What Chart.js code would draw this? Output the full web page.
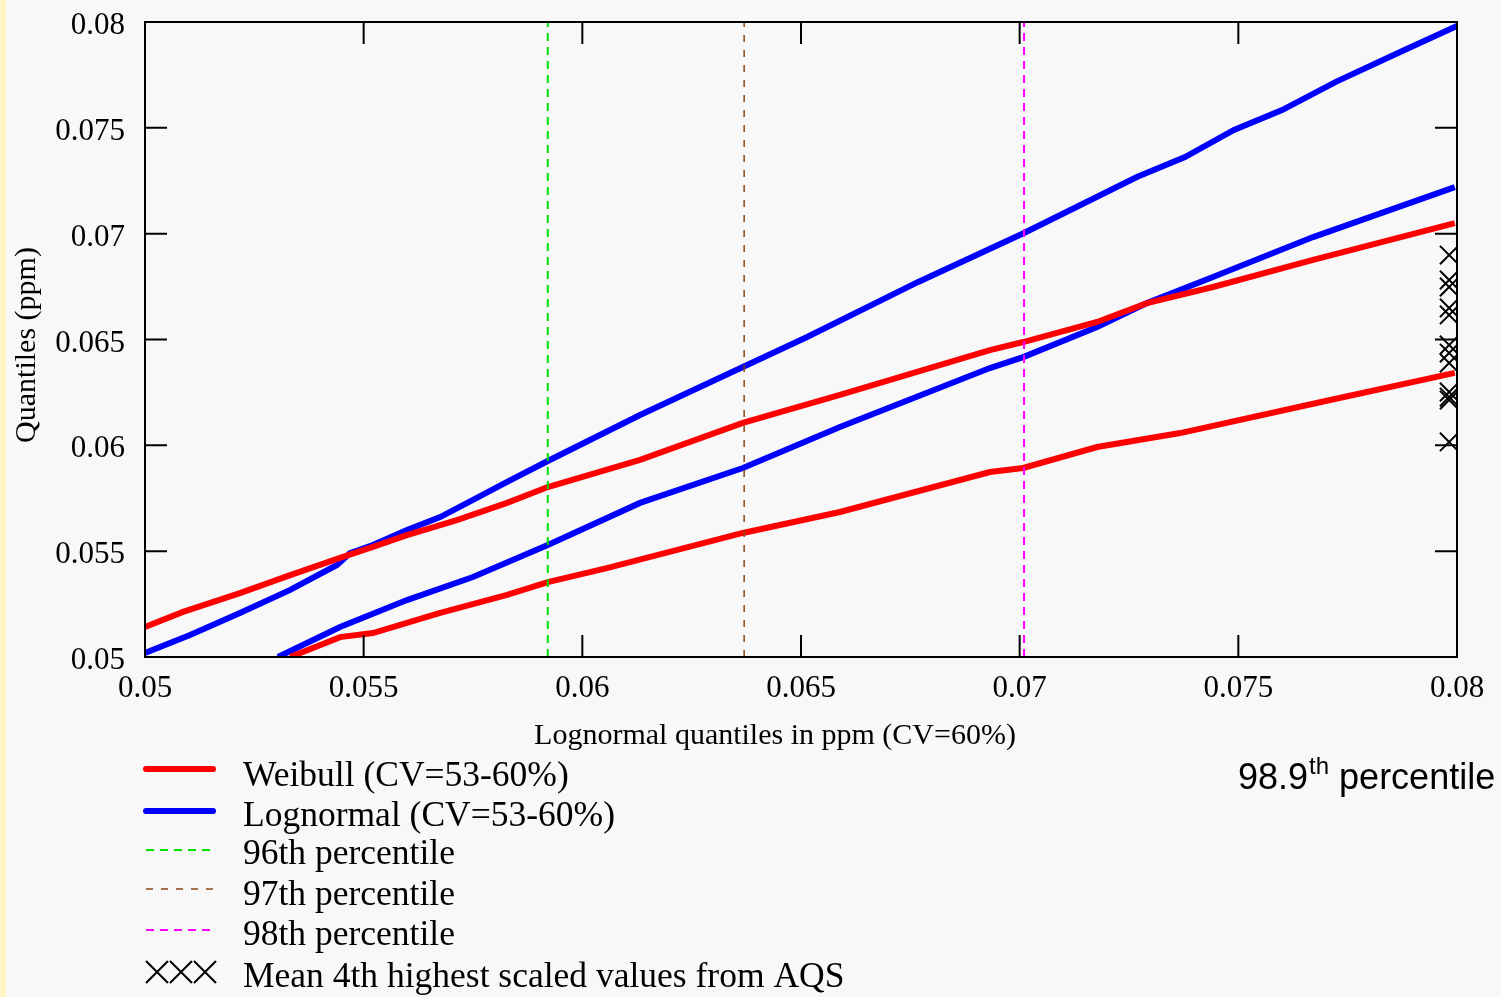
<!DOCTYPE html>
<html>
<head>
<meta charset="utf-8">
<script src="https://cdn.jsdelivr.net/npm/chart.js@4.4.1/dist/chart.umd.min.js"></script>
<style>
  html, body { margin: 0; padding: 0; background: #f8f8f8; }
  #wrap { position: relative; width: 1501px; height: 997px; background: #f8f8f8; }
  #strip { position: absolute; left: 0; top: 0; width: 6px; height: 997px; background: #fff4c6; }
  #chart { position: absolute; left: 0; top: 0; }
</style>
</head>
<body>
<div id="wrap">
  <div id="strip"></div>
  <canvas id="chart" width="1501" height="997"></canvas>
</div>
<script>
// axis ticks
const xTickVals = [0.05, 0.055, 0.06, 0.065, 0.07, 0.075, 0.08];
const xTickLabels = ['0.05', '0.055', '0.06', '0.065', '0.07', '0.075', '0.08'];
const yTickVals = [0.05, 0.055, 0.06, 0.065, 0.07, 0.075, 0.08];
const yTickLabels = ['0.05', '0.055', '0.06', '0.065', '0.07', '0.075', '0.08'];

// Weibull, upper curve
const weibullHiX = [0.05, 0.05087, 0.05217, 0.05332, 0.05446, 0.05521, 0.05599, 0.05713, 0.05828, 0.05921,
  0.06132, 0.06367, 0.06589, 0.06932, 0.07008, 0.07177, 0.07291, 0.07442, 0.07671, 0.07995];
const weibullHiY = [0.05142, 0.05213, 0.05302, 0.05387, 0.05468, 0.05520, 0.05576, 0.05647, 0.05728, 0.05803,
  0.05931, 0.06106, 0.06238, 0.06450, 0.06488, 0.06583, 0.06672, 0.06748, 0.06876, 0.07050];

// Weibull, lower curve
const weibullLoX = [0.05332, 0.05446, 0.05521, 0.05675, 0.05828, 0.05921, 0.06056, 0.06367, 0.06589, 0.06932,
  0.07008, 0.07177, 0.07367, 0.07710, 0.07995];
const weibullLoY = [0.05000, 0.05094, 0.05113, 0.05208, 0.05293, 0.05354, 0.05420, 0.05586, 0.05685, 0.05874,
  0.05893, 0.05992, 0.06058, 0.06214, 0.06342];

// Lognormal, upper curve
const lognormHiX = [0.05, 0.05103, 0.05217, 0.05332, 0.05439, 0.05469, 0.05521, 0.05599, 0.05675, 0.05750,
  0.05828, 0.05921, 0.06132, 0.06367, 0.06514, 0.06768, 0.07010, 0.07268, 0.07378, 0.07490, 0.07600, 0.07723,
  0.07870, 0.08];
const lognormHiY = [0.05019, 0.05104, 0.05208, 0.05317, 0.05435, 0.05491, 0.05529, 0.05600, 0.05661, 0.05742,
  0.05827, 0.05926, 0.06143, 0.06370, 0.06512, 0.06772, 0.07003, 0.07268, 0.07362, 0.07490, 0.07584, 0.07717,
  0.07858, 0.07981];

// Lognormal, lower curve
const lognormLoX = [0.05304, 0.05446, 0.05599, 0.05750, 0.05921, 0.06132, 0.06367, 0.06589, 0.06932, 0.07008,
  0.07177, 0.07291, 0.07442, 0.07671, 0.07995];
const lognormLoY = [0.05000, 0.05142, 0.05269, 0.05378, 0.05529, 0.05728, 0.05893, 0.06087, 0.06365, 0.06417,
  0.06559, 0.06672, 0.06795, 0.06984, 0.07220];

// percentile positions on x
const pct96 = 0.05921;
const pct97 = 0.06370;
const pct98 = 0.07010;

// mean 4th highest scaled values from AQS
const aqsX = 0.07982;
const aqsY = [0.06899, 0.06781, 0.06748, 0.06649, 0.06616, 0.06474, 0.06436, 0.06389, 0.06252, 0.06228,
  0.06214, 0.06016];

const serif = "'Liberation Serif', 'Times New Roman', serif";
const sans = "'Liberation Sans', Arial, sans-serif";

function pts(xs, ys) {
  return xs.map((x, i) => ({ x: x, y: ys[i] }));
}
function vline(x) {
  return [{ x: x, y: 0.05 }, { x: x, y: 0.08 }];
}

const legendRows = [
  { label: 'Weibull (CV=53-60%)', color: '#ff0000', width: 6, dash: [], y: 769, base: 786 },
  { label: 'Lognormal (CV=53-60%)', color: '#0000ff', width: 6, dash: [], y: 811, base: 826 },
  { label: '96th percentile', color: '#00e000', width: 2, dash: [8, 6], y: 850, base: 864 },
  { label: '97th percentile', color: '#8b4513', width: 1.5, dash: [7, 8], y: 889, base: 905 },
  { label: '98th percentile', color: '#ff00ff', width: 2, dash: [8, 6], y: 930, base: 945 },
  { label: 'Mean 4th highest scaled values from AQS', marker: true, y: 972, base: 987 }
];

// frame with inward ticks, titles, legend and the note on the right
const decorations = {
  id: 'decorations',
  afterDatasetsDraw(chart) {
    const ctx = chart.ctx;
    const a = chart.chartArea;
    const xs = chart.scales.x;
    const ys = chart.scales.y;
    const len = 22;
    ctx.save();
    ctx.strokeStyle = '#000';
    ctx.lineWidth = 2;
    ctx.setLineDash([]);
    ctx.strokeRect(a.left, a.top, a.right - a.left, a.bottom - a.top);
    ctx.beginPath();
    xTickVals.forEach(v => {
      const px = xs.getPixelForValue(v);
      ctx.moveTo(px, a.bottom); ctx.lineTo(px, a.bottom - len);
      ctx.moveTo(px, a.top); ctx.lineTo(px, a.top + len);
    });
    yTickVals.forEach(v => {
      const py = ys.getPixelForValue(v);
      ctx.moveTo(a.left, py); ctx.lineTo(a.left + len, py);
      ctx.moveTo(a.right, py); ctx.lineTo(a.right - len, py);
    });
    ctx.stroke();
    ctx.restore();
  },
  afterDraw(chart) {
    const ctx = chart.ctx;
    ctx.save();
    ctx.fillStyle = '#000';
    // axis titles
    ctx.font = '30px ' + serif;
    ctx.textAlign = 'center';
    ctx.textBaseline = 'middle';
    ctx.fillText('Lognormal quantiles in ppm (CV=60%)', 775, 736);
    ctx.save();
    ctx.translate(27, 345);
    ctx.rotate(-Math.PI / 2);
    ctx.fillText('Quantiles (ppm)', 0, 0);
    ctx.restore();

    // legend
    ctx.textAlign = 'left';
    ctx.textBaseline = 'alphabetic';
    ctx.font = '35.5px ' + serif;
    legendRows.forEach(r => {
      if (r.marker) {
        ctx.strokeStyle = '#000';
        ctx.lineWidth = 2;
        ctx.setLineDash([]);
        [157, 181, 205].forEach(cx => {
          ctx.beginPath();
          ctx.moveTo(cx - 11, r.y - 11); ctx.lineTo(cx + 11, r.y + 11);
          ctx.moveTo(cx - 11, r.y + 11); ctx.lineTo(cx + 11, r.y - 11);
          ctx.stroke();
        });
      } else {
        ctx.strokeStyle = r.color;
        ctx.lineWidth = r.width;
        ctx.lineCap = r.dash.length ? 'butt' : 'round';
        ctx.setLineDash(r.dash);
        ctx.beginPath();
        ctx.moveTo(146, r.y);
        ctx.lineTo(213, r.y);
        ctx.stroke();
      }
      ctx.fillText(r.label, 243, r.base);
    });

    // 98.9th percentile note
    ctx.font = '36px ' + sans;
    ctx.fillText('98.9', 1238, 789);
    const w = ctx.measureText('98.9').width;
    ctx.font = '24px ' + sans;
    ctx.fillText('th', 1238 + w + 1, 774);
    const w2 = ctx.measureText('th').width;
    ctx.font = '36px ' + sans;
    ctx.fillText(' percentile', 1238 + w + 1 + w2, 789);
    ctx.restore();
  }
};

const lineStyle = { showLine: true, pointRadius: 0, fill: false, tension: 0 };

new Chart(document.getElementById('chart'), {
  type: 'scatter',
  data: {
    datasets: [
      Object.assign({ label: '96th percentile', data: vline(pct96), borderColor: '#00e000', borderWidth: 2, borderDash: [8, 6] }, lineStyle),
      Object.assign({ label: '97th percentile', data: vline(pct97), borderColor: '#8b4513', borderWidth: 1.5, borderDash: [7, 8] }, lineStyle),
      Object.assign({ label: '98th percentile', data: vline(pct98), borderColor: '#ff00ff', borderWidth: 2, borderDash: [8, 6] }, lineStyle),
      Object.assign({ label: 'Weibull upper', data: pts(weibullHiX, weibullHiY), borderColor: '#ff0000', borderWidth: 6 }, lineStyle),
      Object.assign({ label: 'Weibull lower', data: pts(weibullLoX, weibullLoY), borderColor: '#ff0000', borderWidth: 6 }, lineStyle),
      Object.assign({ label: 'Lognormal upper', data: pts(lognormHiX, lognormHiY), borderColor: '#0000ff', borderWidth: 6 }, lineStyle),
      Object.assign({ label: 'Lognormal lower', data: pts(lognormLoX, lognormLoY), borderColor: '#0000ff', borderWidth: 6 }, lineStyle),
      {
        label: 'Mean 4th highest scaled values from AQS',
        data: aqsY.map(v => ({ x: aqsX, y: v })),
        showLine: false,
        pointStyle: 'crossRot',
        pointRadius: 13,
        borderWidth: 2,
        borderColor: '#000',
        backgroundColor: '#000'
      }
    ]
  },
  options: {
    responsive: false,
    animation: false,
    events: [],
    layout: { padding: { left: 0, top: 22, right: 44, bottom: 280 } },
    scales: {
      x: {
        type: 'linear',
        min: 0.05,
        max: 0.08,
        grid: { display: false, drawTicks: false },
        border: { display: false },
        afterBuildTicks: s => { s.ticks = xTickVals.map(v => ({ value: v })); },
        afterFit: s => { s.height = 60; s.paddingLeft = 0; s.paddingRight = 0; },
        ticks: {
          padding: 13,
          color: '#000',
          font: { family: serif, size: 31 },
          maxRotation: 0,
          callback: (v, i) => xTickLabels[i]
        }
      },
      y: {
        type: 'linear',
        min: 0.05,
        max: 0.08,
        grid: { display: false, drawTicks: false },
        border: { display: false },
        afterBuildTicks: s => { s.ticks = yTickVals.map(v => ({ value: v })); },
        afterFit: s => { s.width = 145; s.paddingTop = 0; s.paddingBottom = 0; },
        ticks: {
          padding: 20,
          labelOffset: 4,
          color: '#000',
          font: { family: serif, size: 31 },
          callback: (v, i) => yTickLabels[i]
        }
      }
    },
    plugins: {
      legend: { display: false },
      tooltip: { enabled: false }
    }
  },
  plugins: [decorations]
});
</script>
</body>
</html>
